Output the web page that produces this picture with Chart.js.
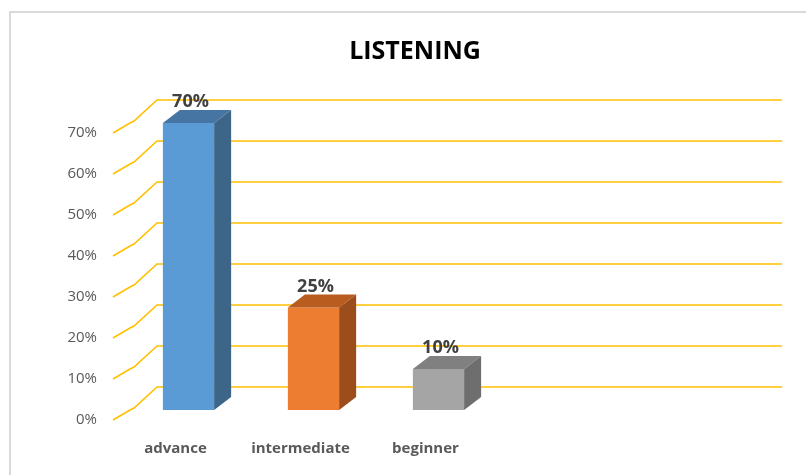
<!DOCTYPE html>
<html>
<head>
<meta charset="utf-8">
<script src="https://cdn.jsdelivr.net/npm/chart.js@4.4.1/dist/chart.umd.min.js"></script>
<style>
  html, body { margin: 0; padding: 0; background: #fff; }
  #wrap { position: relative; width: 806px; height: 475px; }
  #frame { position: absolute; left: 9px; top: 11px; width: 820px; height: 480px; border: 2px solid #D9D9D9; box-sizing: border-box; }
  canvas { position: absolute; left: 0; top: 0; }
</style>
</head>
<body>
<div id="wrap">
  <div id="frame"></div>
  <canvas id="chart" width="806" height="475"></canvas>
</div>
<script>
// data (two trailing empty categories, like the source sheet)
const categories = ["advance", "intermediate", "beginner", "", ""];
const values = [70, 25, 10, null, null];
const tickValues = [0, 10, 20, 30, 40, 50, 60, 70];

const frontColors = ["#5B9BD5", "#ED7D31", "#A5A5A5"];
const sideColors = ["#3C6588", "#9C4D1C", "#6E6E6E"];
const topColors = ["#4675A3", "#B85C20", "#808080"];

// 3d offsets (pixels)
const BAR_DX = 17, BAR_DY = 13;   // bar depth
const BACK_DX = 31, BACK_DY = 23; // bar plane -> back wall
const FRONT_DY = 10;              // bar plane -> floor front edge

const gridPlugin = {
  id: "grid3d",
  beforeDatasetsDraw(chart) {
    const ctx = chart.ctx;
    const y = chart.scales.y, x = chart.scales.x;
    ctx.save();
    ctx.strokeStyle = "#FFC000";
    ctx.lineWidth = 1.6;
    tickValues.forEach(v => {
      const py = y.getPixelForValue(v);
      const by = py - BACK_DY;
      const fy = py + FRONT_DY;
      const bx = x.left + BACK_DX;
      const fx = bx - 44;
      ctx.beginPath();
      ctx.moveTo(fx, fy);
      ctx.lineTo(fx + 17, fy - 10);
      ctx.lineTo(fx + 21, fy - 12);
      ctx.lineTo(bx, by);
      ctx.lineTo(x.right + BACK_DX, by);
      ctx.stroke();
    });
    ctx.restore();
  },
  afterDatasetsDraw(chart) {
    const ctx = chart.ctx;
    const meta = chart.getDatasetMeta(0);
    ctx.save();
    meta.data.forEach((bar, i) => {
      if (values[i] == null) return;
      const l = bar.x - bar.width / 2, r = bar.x + bar.width / 2;
      const t = bar.y, b = bar.base;
      // top face
      ctx.fillStyle = topColors[i];
      ctx.beginPath();
      ctx.moveTo(l, t); ctx.lineTo(r, t);
      ctx.lineTo(r + BAR_DX, t - BAR_DY); ctx.lineTo(l + BAR_DX, t - BAR_DY);
      ctx.closePath(); ctx.fill();
      // side face
      ctx.fillStyle = sideColors[i];
      ctx.beginPath();
      ctx.moveTo(r, t); ctx.lineTo(r + BAR_DX, t - BAR_DY);
      ctx.lineTo(r + BAR_DX, b - BAR_DY); ctx.lineTo(r, b);
      ctx.closePath(); ctx.fill();
      // value label
      ctx.fillStyle = "#404040";
      ctx.font = "bold 18px 'Open Sans'";
      ctx.textAlign = "center";
      ctx.textBaseline = "bottom";
      ctx.fillText(values[i] + "%", bar.x + 2, t - BAR_DY + 1);
    });
    ctx.restore();
  }
};

new Chart(document.getElementById("chart"), {
  type: "bar",
  data: {
    labels: categories,
    datasets: [{
      data: values,
      backgroundColor: frontColors,
      borderWidth: 0,
      categoryPercentage: 1,
      barPercentage: 0.41
    }]
  },
  options: {
    responsive: false,
    animation: false,
    layout: { padding: { left: 24, right: 0, top: 0, bottom: 0 } },
    plugins: {
      legend: { display: false },
      tooltip: { enabled: false },
      title: {
        display: true,
        text: "LISTENING",
        color: "#000",
        font: { family: "'Open Sans'", size: 25, weight: "bold" },
        padding: { top: 37, bottom: 56 }
      }
    },
    scales: {
      x: {
        grid: { display: false },
        border: { display: false },
        ticks: {
          color: "#595959",
          font: { family: "'Open Sans'", size: 15, weight: "bold" },
          padding: 22,
          labelOffset: -13,
          maxRotation: 0
        },
        afterFit: s => { s.height = 65; }
      },
      y: {
        min: 0,
        max: 70,
        grid: { display: false, drawTicks: false },
        border: { display: false },
        ticks: {
          stepSize: 10,
          color: "#595959",
          font: { family: "'Open Sans'", size: 15 },
          padding: 29,
          labelOffset: FRONT_DY,
          callback: v => v + "%"
        },
        afterFit: s => { s.width = 102; }
      },
      // empty spacer on the right, keeps the plot narrower than the frame
      spacer: {
        type: "linear",
        position: "right",
        grid: { display: false, drawTicks: false },
        border: { display: false },
        ticks: { display: false },
        afterFit: s => { s.width = 55; }
      }
    }
  },
  plugins: [gridPlugin]
});
</script>
</body>
</html>
